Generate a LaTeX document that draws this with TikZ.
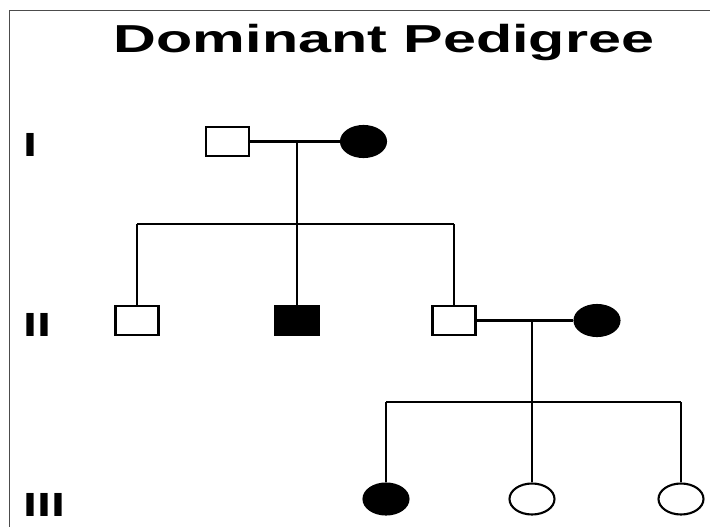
\documentclass[tikz,border=0pt]{standalone}
\usepackage{fontspec}
\setmainfont{Liberation Sans}
\usetikzlibrary{shapes.geometric}
\tikzset{
  ln/.style={line width=2.1pt, black},
  male/.style={draw, line width=2.1pt, rectangle, inner sep=0pt, minimum width=43pt, minimum height=29pt, fill=white},
  female/.style={draw, line width=2.1pt, ellipse, inner sep=0pt, minimum width=45pt, minimum height=31pt, fill=white},
  aff/.style={fill=black},
  gen/.style={anchor=base west, inner sep=0pt, font=\fontsize{33.5}{34}\selectfont\bfseries},
}
\begin{document}
\begin{tikzpicture}[x=1pt, y=-1pt]
\useasboundingbox (0,0) rectangle (710,527);
\fill[white] (0,0) rectangle (710,527);
\draw[line width=1pt, black!70] (9,527) -- (9,11) -- (710,11);
% title
\node[anchor=base, inner sep=0pt, font=\fontsize{39}{39}\selectfont\bfseries] (title) at (384,53) {\scalebox{1.52}[1]{Dominant Pedigree}};
% generation labels
\node[gen] (gI) at (23,157) {\scalebox{1.5}[1]{I}};
\node[gen] (gII) at (23,336) {\scalebox{1.5}[1]{II}};
\node[gen] (gIII) at (23,516) {\scalebox{1.5}[1]{III}};
% generation I
\node[male] (f1) at (227.5,141.5) {};
\node[female, aff] (m1) at (363.5,141.5) {};
\coordinate (u1) at (297,142);
\coordinate (s1) at (297,224);
\coordinate (s1l) at (137,224);
\coordinate (s1r) at (454,224);
% generation II
\node[male] (c1) at (137,320.5) {};
\node[male, aff] (c2) at (297,320.5) {};
\node[male] (c3) at (454,320.5) {};
\node[female, aff] (w3) at (597,320.5) {};
\coordinate (u2) at (532,320.5);
\coordinate (s2) at (532,402);
\coordinate (s2l) at (386,402);
\coordinate (s2r) at (681,402);
% generation III
\node[female, aff] (d1) at (386,499) {};
\node[female] (d2) at (532,499) {};
\node[female] (d3) at (681,499) {};
% connectors
\draw[ln] (f1) -- (m1);
\draw[ln] (u1) -- (s1);
\draw[ln] (s1l) -- (s1r);
\draw[ln] (s1l) -- (c1.north);
\draw[ln] (s1) -- (c2.north);
\draw[ln] (s1r) -- (c3.north);
\draw[ln] (c3) -- (w3);
\draw[ln] (u2) -- (s2);
\draw[ln] (s2l) -- (s2r);
\draw[ln] (s2l) -- (d1.north);
\draw[ln] (s2) -- (d2.north);
\draw[ln] (s2r) -- (d3.north);
\end{tikzpicture}
\end{document}
